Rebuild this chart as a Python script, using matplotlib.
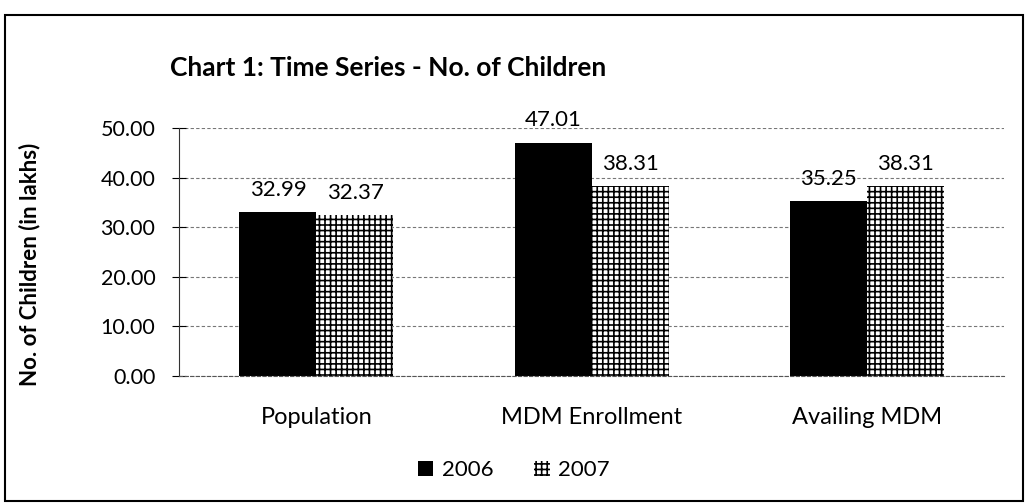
import numpy as np
import matplotlib.pyplot as plt
from matplotlib.patches import Rectangle

categories = ['Population', 'MDM Enrollment', 'Availing MDM']
y2006 = [32.99, 47.01, 35.25]
y2007 = [32.37, 38.31, 38.31]
yticks = [0, 10, 20, 30, 40, 50]

plt.rcParams['font.family'] = ['Lato', 'DejaVu Sans']
plt.rcParams['hatch.linewidth'] = 1.2

fig = plt.figure(figsize=(10.28, 5.03), dpi=100)
ax = fig.add_axes([0.174, 0.2525, 0.803, 0.493])

x = np.arange(len(categories))
w = 0.28
b1 = ax.bar(x - w / 2, y2006, w, color='black', label='2006')
b2 = ax.bar(x + w / 2, y2007, w, color='white', edgecolor='black',
            hatch='+++', linewidth=0, label='2007')

# value labels above bars
for bars, vals in [(b1, y2006), (b2, y2007)]:
    for rect, v in zip(bars, vals):
        ax.text(rect.get_x() + rect.get_width() / 2, v + 2.5, f'{v:.2f}',
                ha='center', va='bottom', fontsize=16)

ax.set_xlim(-0.5, 2.5)
ax.set_ylim(0, 50)
ax.set_yticks(yticks)
ax.set_yticklabels([f'{t:.2f}' for t in yticks], fontsize=15.5)
ax.set_xticks(x)
ax.set_xticklabels(categories, fontsize=17)
ax.tick_params(axis='x', length=0, pad=22)
ax.tick_params(axis='y', direction='inout', length=10, pad=12)
ax.grid(axis='y', color='#777777', linestyle=(0, (3, 2)), linewidth=0.8)
ax.set_axisbelow(True)
for s in ['top', 'right']:
    ax.spines[s].set_visible(False)
ax.spines['bottom'].set_linestyle((0, (3, 2)))
ax.spines['bottom'].set_color('#555555')
ax.spines['left'].set_color('#333333')

ax.set_ylabel('No. of Children (in lakhs)', fontsize=16, fontweight='bold')
ax.yaxis.set_label_coords(-0.168, 0.45)

fig.text(0.378, 0.865, 'Chart 1: Time Series - No. of Children',
         ha='center', va='center', fontsize=19, fontweight='bold')

fig.legend(handles=[b1, b2], labels=['2006', '2007'], loc='center',
           bbox_to_anchor=(0.5, 0.065), ncol=2, frameon=False, fontsize=16,
           handlelength=0.7, handleheight=0.7, handletextpad=0.4,
           columnspacing=1.8)

fig.patches.append(Rectangle((0.005, 0.003), 0.99, 0.967, transform=fig.transFigure,
                             fill=False, edgecolor='black', linewidth=1.5))

fig.savefig('out.png', dpi=100)
